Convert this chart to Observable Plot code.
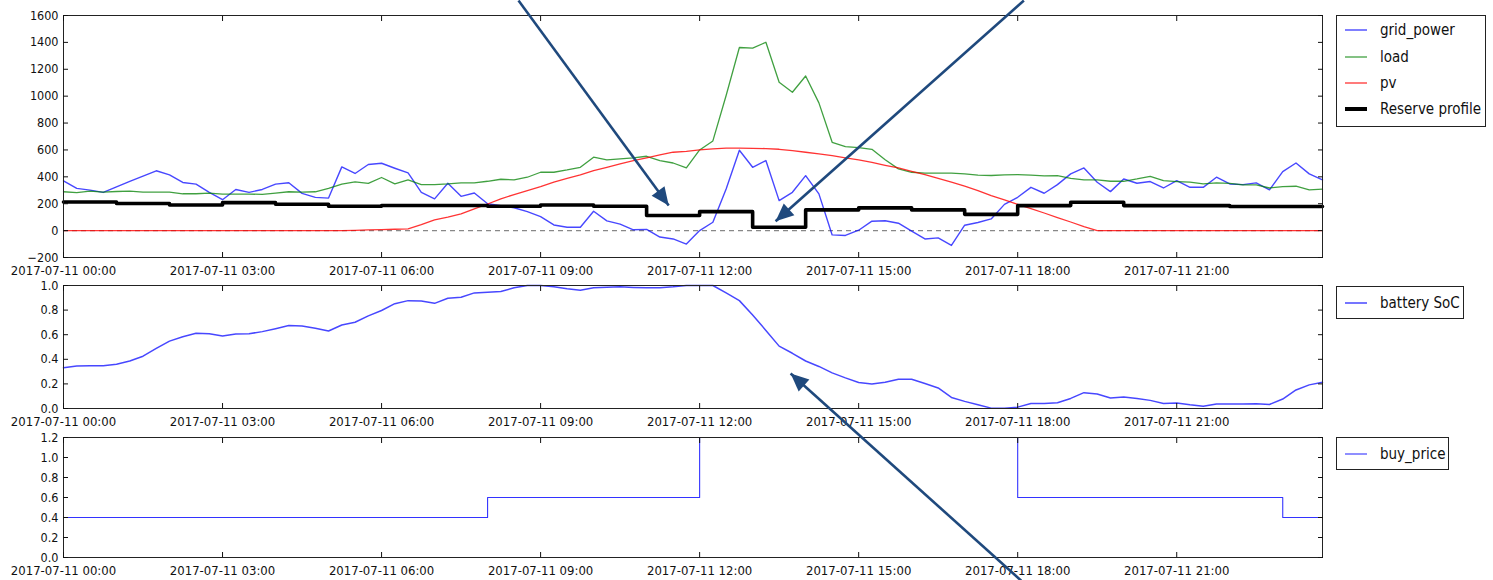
<!DOCTYPE html>
<html><head><meta charset="utf-8">
<script src="https://cdn.jsdelivr.net/npm/d3@7"></script>
<script src="https://cdn.jsdelivr.net/npm/@observablehq/plot@0.6"></script>
<style>
body{margin:0;background:#fff;}
#wrap{position:relative;width:1493px;height:580px;overflow:hidden;font-family:"Liberation Sans Narrow","DejaVu Sans Condensed","Liberation Sans",sans-serif;}
.panel{position:absolute;left:0;}
.panel svg{overflow:visible;}
.legend{position:absolute;border:1px solid #222;background:#fff;box-sizing:border-box;font-size:15px;color:#111;}
.entry{position:absolute;left:8px;height:20px;display:flex;align-items:center;white-space:nowrap;}
.entry svg{margin-right:13px;}
</style></head>
<body><div id="wrap"></div>
<script>
// ---------- data (15-minute samples, 2017-07-11 00:00 .. 23:45) ----------
const grid_power = [370,314,301,284,326,366,405,445,415,358,
  346,284,230,306,284,306,346,356,277,247,
  242,474,425,492,501,464,429,285,236,352,
  255,280,200,185,170,141,104,42,25,25,
  144,72,48,6,9,-48,-62,-100,0,62,
  310,598,471,521,223,285,409,273,-32,-36,
  3,70,73,55,-4,-62,-54,-110,40,60,
  87,195,248,322,278,342,422,466,360,290,
  384,352,365,317,372,322,322,397,347,342,
  355,303,439,503,422,377];
const load = [289,282,294,287,291,294,287,287,287,274,
  274,279,272,272,272,269,279,289,287,289,
  314,346,363,351,395,347,377,342,342,347,
  355,355,367,382,377,397,434,434,451,471,
  546,526,533,541,553,521,503,466,600,667,
  1005,1362,1357,1401,1104,1029,1150,950,657,625,
  618,605,527,459,434,427,427,427,422,412,
  410,414,417,412,407,409,389,377,377,367,
  367,384,404,372,365,360,347,355,352,340,
  340,317,327,330,303,308];
const pv = [0,0,0,0,0,0,0,0,0,0,
  0,0,0,0,0,0,0,0,0,0,
  0,0,2,5,8,10,13,45,80,100,
  124,161,198,236,268,298,327,360,389,414,
  446,471,496,521,541,563,583,590,600,608,
  613,613,612,610,605,595,583,570,558,541,
  526,508,486,466,441,417,389,360,330,298,
  260,228,196,164,131,97,64,30,0,0,
  0,0,0,0,0,0,0,0,0,0,
  0,0,0,0,0,0];
const battery_soc = [0.331,0.345,0.348,0.348,0.359,0.386,0.425,0.488,0.548,0.584,
  0.611,0.608,0.589,0.605,0.608,0.625,0.649,0.674,0.671,0.652,
  0.630,0.679,0.701,0.753,0.797,0.852,0.877,0.874,0.855,0.896,
  0.904,0.940,0.945,0.951,0.981,1.0,1.0,0.989,0.973,0.962,
  0.981,0.986,0.989,0.984,0.981,0.981,0.989,1.0,1.0,1.0,
  0.94,0.877,0.76,0.635,0.507,0.449,0.386,0.342,0.29,0.249,
  0.211,0.2,0.214,0.238,0.238,0.203,0.167,0.09,0.058,0.03,
  0.003,0.003,0.011,0.041,0.041,0.047,0.082,0.129,0.118,0.085,
  0.093,0.082,0.066,0.041,0.044,0.03,0.019,0.036,0.036,0.036,
  0.038,0.033,0.077,0.151,0.192,0.214];
// Reserve profile: one value per hour 00..23
const reserve_hourly = [213,202,191,208,196,181,187,187,181,191,181,112,
  141,25,154,169,154,121,186,211,186,186,179,179];
// buy price steps
const price_times = ["00:00","08:00","12:00","18:00","23:00"];
const price_values = [0.4,0.6,1.2,0.6,0.4];
// tick labels
const x_tick_hours = ["00:00","03:00","06:00","09:00","12:00","15:00","18:00","21:00"];
const y_ticks_power = [-200,0,200,400,600,800,1000,1200,1400,1600];
const y_ticks_soc = [0,0.2,0.4,0.6,0.8,1.0];
const y_ticks_price = [0,0.2,0.4,0.6,0.8,1.0,1.2];
// annotation arrows (time, value) start -> tip
const arrows_top = [
  {x1:"08:35", y1:1711, x2:"11:25", y2:186},
  {x1:"18:07", y1:1711, x2:"13:26", y2:69}
];
const arrows_mid = [
  {x1:"18:04", y1:-1.40, x2:"13:43", y2:0.285}
];

// ---------- helpers ----------
const DAY = "2017-07-11";
const parseT = s => new Date(`${DAY}T${s}:00Z`);
const T0 = parseT("00:00");
const at = k => new Date(+T0 + k * 15 * 60000);
const TEND = at(grid_power.length - 1);
const rows = grid_power.map((v, k) => ({t: at(k), grid_power: v, load: load[k], pv: pv[k], soc: battery_soc[k]}));
const reserveRows = reserve_hourly.map((v, h) => ({t: at(h * 4), v})).concat([{t: TEND, v: reserve_hourly[reserve_hourly.length - 1]}]);
const priceRows = price_times.map((s, i) => ({t: parseT(s), v: price_values[i]})).concat([{t: TEND, v: price_values[price_values.length - 1]}]);
const xTicks = x_tick_hours.map(parseT);
const fmtX = d3.utcFormat("%Y-%m-%d %H:%M");
const ARROW = "#1f497d";
const FONT = '"Liberation Sans Narrow","DejaVu Sans Condensed","Liberation Sans",sans-serif';

function axes(yTicks, yFmt, xPad) {
  return [
    Plot.axisX({anchor: "bottom", ticks: xTicks, tickFormat: fmtX, tickSize: -5, tickPadding: xPad, label: null, fontSize: 13}),
    Plot.axisX({anchor: "top", ticks: xTicks, tickFormat: () => "", tickSize: -5, label: null}),
    Plot.axisY({anchor: "left", ticks: yTicks, tickFormat: yFmt, tickSize: -5, tickPadding: 10, label: null, fontSize: 12.5}),
    Plot.axisY({anchor: "right", ticks: yTicks, tickFormat: () => "", tickSize: -5, label: null})
  ];
}
function headSymbol(ux, uy) {
  const L = 18, W = 8, px = -uy, py = ux;
  return {draw(ctx) {
    ctx.moveTo(0, 0);
    ctx.lineTo(-L * ux + W * px, -L * uy + W * py);
    ctx.lineTo(-L * ux - W * px, -L * uy - W * py);
    ctx.closePath();
  }};
}
function arrowMarks(list, plot) {
  const data = list.map(a => ({x1: parseT(a.x1), y1: a.y1, x2: parseT(a.x2), y2: a.y2}));
  const marks = [Plot.link(data, {x1: "x1", y1: "y1", x2: "x2", y2: "y2", stroke: ARROW, strokeWidth: 2.6, clip: false})];
  if (plot) {
    const sx = plot.scale("x"), sy = plot.scale("y");
    data.forEach(d => {
      const dx = sx.apply(d.x2) - sx.apply(d.x1), dy = sy.apply(d.y2) - sy.apply(d.y1);
      const n = Math.hypot(dx, dy);
      marks.push(Plot.dot([d], {x: "x2", y: "y2", r: 5, symbol: headSymbol(dx / n, dy / n), fill: ARROW, stroke: null, clip: false}));
    });
  }
  return marks;
}
const baseStyle = {background: "transparent", overflow: "visible", fontFamily: FONT, fontSize: "13px", color: "#111"};

function topPlot(prev) {
  return Plot.plot({
    width: 1330, height: 285, marginLeft: 63, marginRight: 8, marginTop: 15, marginBottom: 28,
    style: baseStyle,
    x: {type: "utc", domain: [T0, TEND]},
    y: {domain: [-200, 1600]},
    marks: [
      Plot.ruleY([0], {stroke: "#888", strokeDasharray: "5,4", strokeWidth: 1.2}),
      Plot.line(rows, {x: "t", y: "grid_power", stroke: "#0000ff", strokeOpacity: 0.72, strokeWidth: 1.4}),
      Plot.line(rows, {x: "t", y: "load", stroke: "#008000", strokeOpacity: 0.75, strokeWidth: 1.3}),
      Plot.line(rows, {x: "t", y: "pv", stroke: "#ff0000", strokeOpacity: 0.8, strokeWidth: 1.3}),
      Plot.line(reserveRows, {x: "t", y: "v", curve: "step-after", stroke: "#000", strokeWidth: 3.6}),
      Plot.frame({stroke: "#222"}),
      ...axes(y_ticks_power, d3.format("d"), 13),
      ...arrowMarks(arrows_top, prev)
    ]
  });
}
function midPlot(prev) {
  return Plot.plot({
    width: 1330, height: 160, marginLeft: 63, marginRight: 8, marginTop: 15, marginBottom: 22,
    style: baseStyle,
    x: {type: "utc", domain: [T0, TEND]},
    y: {domain: [0, 1]},
    marks: [
      Plot.line(rows, {x: "t", y: "soc", stroke: "#0000ff", strokeOpacity: 0.72, strokeWidth: 1.5}),
      Plot.frame({stroke: "#222"}),
      ...axes(y_ticks_soc, d3.format(".1f"), 13),
      ...arrowMarks(arrows_mid, prev)
    ]
  });
}
function botPlot() {
  return Plot.plot({
    width: 1330, height: 158, marginLeft: 63, marginRight: 8, marginTop: 15, marginBottom: 23,
    style: baseStyle,
    x: {type: "utc", domain: [T0, TEND]},
    y: {domain: [0, 1.2]},
    marks: [
      Plot.line(priceRows, {x: "t", y: "v", curve: "step-after", stroke: "#0000ff", strokeOpacity: 0.8, strokeWidth: 1.1}),
      Plot.frame({stroke: "#222"}),
      ...axes(y_ticks_price, d3.format(".1f"), 13)
    ]
  });
}

const wrap = document.getElementById("wrap");
function place(node, top, z) {
  const d = document.createElement("div");
  d.className = "panel"; d.style.top = top + "px"; d.style.zIndex = z;
  d.appendChild(node); wrap.appendChild(d);
}
place(botPlot(), 422, 1);
place(midPlot(midPlot()), 270, 3);
place(topPlot(topPlot()), 0, 2);

function legend(left, top, w, h, items) {
  const box = document.createElement("div");
  box.className = "legend";
  Object.assign(box.style, {left: left + "px", top: top + "px", width: w + "px", height: h + "px", zIndex: 4});
  items.forEach((it, i) => {
    const e = document.createElement("div");
    e.className = "entry"; e.style.top = (it.y - 10) + "px";
    e.innerHTML = `<svg width="22" height="10"><line x1="0" x2="22" y1="5" y2="5" stroke="${it.color}" stroke-width="${it.w}" stroke-opacity="${it.o}"/></svg><span>${it.label}</span>`;
    box.appendChild(e);
  });
  wrap.appendChild(box);
}
legend(1336, 15, 150, 112, [
  {label: "grid_power", color: "#0000ff", w: 1.4, o: 0.72, y: 14},
  {label: "load", color: "#008000", w: 1.3, o: 0.75, y: 41},
  {label: "pv", color: "#ff0000", w: 1.3, o: 0.8, y: 67},
  {label: "Reserve profile", color: "#000", w: 4, o: 1, y: 93}
]);
legend(1336, 286, 128, 33, [{label: "battery SoC", color: "#0000ff", w: 1.5, o: 0.72, y: 16}]);
legend(1336, 437, 113, 33, [{label: "buy_price", color: "#0000ff", w: 1.1, o: 0.8, y: 16}]);
</script></body></html>
